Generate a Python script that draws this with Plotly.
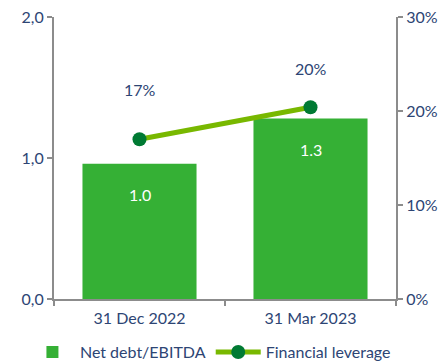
import plotly.graph_objects as go

# Reporting dates and key ratios
categories = ["31 Dec 2022", "31 Mar 2023"]
net_debt_ebitda = [0.96, 1.28]
financial_leverage = [0.17, 0.204]

left_tickvals = [0, 1, 2]
left_ticktext = ["0,0", "1,0", "2,0"]

TEXT = "#2d4574"
AXIS = "#8c8c8c"
BAR = "#35b035"
LINE = "#78b800"
MARKER = "#007a33"
FONT = "Lato"
FS = 16

fig = go.Figure()

fig.add_trace(go.Bar(
    x=categories, y=net_debt_ebitda, name="Net debt/EBITDA",
    marker=dict(color=BAR, line=dict(width=0)), width=0.667,
    hoverinfo="skip",
))

fig.add_trace(go.Scatter(
    x=categories, y=financial_leverage, name="Financial leverage",
    mode="lines+markers", yaxis="y2",
    line=dict(color=LINE, width=5),
    marker=dict(color=MARKER, size=14),
))

annotations = []
# values written inside the bars, just under their tops
for cat, v in zip(categories, net_debt_ebitda):
    annotations.append(dict(
        x=cat, y=v, xref="x", yref="y", text=f"{v:.1f}", showarrow=False,
        yshift=-31, font=dict(color="white", size=FS, family=FONT),
    ))
# leverage percentages above the line points
for cat, v, shift in zip(categories, financial_leverage, [50, 39]):
    annotations.append(dict(
        x=cat, y=v, xref="x", yref="y2", text=f"{round(v * 100):.0f}%",
        showarrow=False, yshift=shift,
        font=dict(color=TEXT, size=FS, family=FONT),
    ))

axis_common = dict(
    showgrid=False, zeroline=False, showline=True, linecolor=AXIS, linewidth=2,
    ticks="outside", ticklen=5, tickcolor=AXIS, tickwidth=2,
    tickfont=dict(color=TEXT, size=FS, family=FONT),
)

fig.update_layout(
    width=441, height=363,
    margin=dict(l=54, r=45, t=17, b=64, autoexpand=False),
    paper_bgcolor="white", plot_bgcolor="white",
    font=dict(family=FONT, color=TEXT, size=FS),
    showlegend=True,
    legend=dict(
        orientation="h", x=-0.085, xanchor="left", y=-0.128, yanchor="top",
        font=dict(color=TEXT, size=FS, family=FONT),
        itemwidth=45, tracegroupgap=0,
    ),
    xaxis=dict(
        **axis_common, tickson="boundaries", ticklabelstandoff=4,
    ),
    yaxis=dict(
        **axis_common, range=[0, 2], tickvals=left_tickvals,
        ticktext=left_ticktext,
    ),
    yaxis2=dict(
        **axis_common, range=[0, 0.3], dtick=0.1, tickformat=".0%",
        overlaying="y", side="right",
    ),
    annotations=annotations,
    bargap=0.333,
)

fig.write_html("out.html")
